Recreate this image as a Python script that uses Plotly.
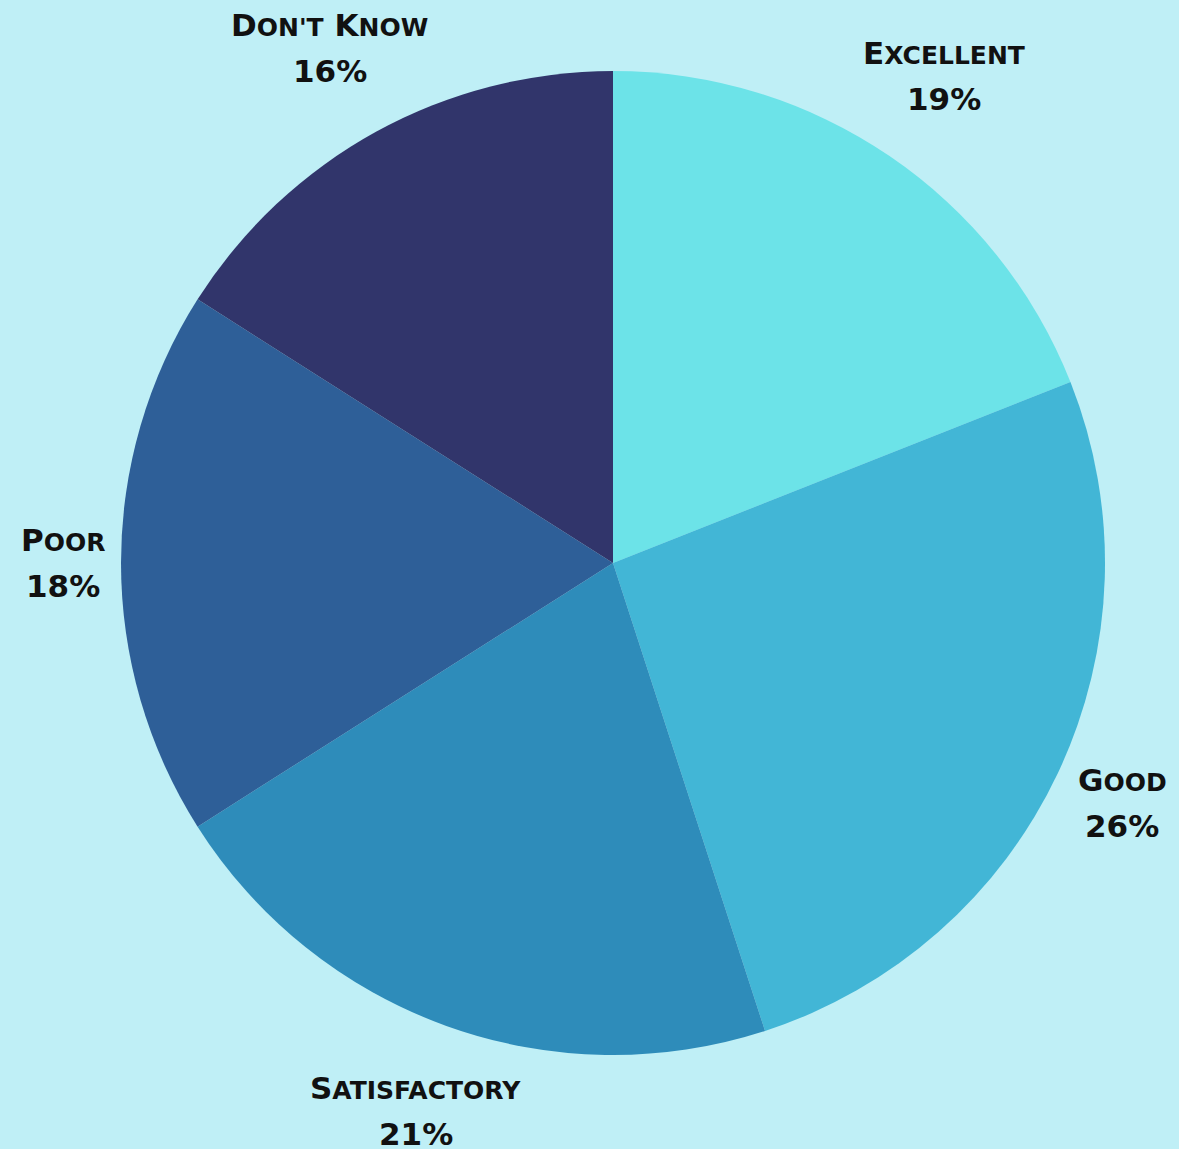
import math
import plotly.graph_objects as go

categories = ["Excellent", "Good", "Satisfactory", "Poor", "Don't Know"]
values = [19, 26, 21, 18, 16]
colors = ["#6ce3e8", "#42b6d6", "#2e8cba", "#2e5f98", "#31356b"]

W, H = 1179, 1149
ML, MR, MT, MB = 47, 0, 71, 94
FONT = "DejaVu Sans"
BIG, SMALL = 31, 25


def small_caps(label):
    words = []
    for w in label.split(" "):
        words.append(w[0].upper() + "<span style='font-size:%dpx'>%s</span>" % (SMALL, w[1:].upper()))
    return " ".join(words)


fig = go.Figure(go.Pie(
    labels=categories,
    values=values,
    sort=False,
    direction="clockwise",
    rotation=0,
    marker=dict(colors=colors, line=dict(width=0)),
    textinfo="none",
    showlegend=False,
    hoverinfo="label+percent",
))

# label placement derived from the slice mid-angles
pw, ph = W - ML - MR, H - MT - MB
R = min(pw, ph) / 2
cx, cy = ML + pw / 2, MT + ph / 2
total = sum(values)
cum = 0
annotations = []
for lab, v in zip(categories, values):
    mid = (cum + v / 2) / total * 2 * math.pi
    cum += v
    s, c = math.sin(mid), math.cos(mid)
    bw = 12 + 17 * len(lab)
    bh = 77
    d = R + 18 + abs(s) * bw / 2 + abs(c) * bh / 2
    px, py = cx + s * d, cy - c * d
    pct = "%d%%" % round(v / total * 100)
    for txt, off in ((small_caps(lab), -23), (pct, 23)):
        annotations.append(dict(
            x=(px - ML) / pw, y=(H - MB - (py + off)) / ph,
            xref="paper", yref="paper", text=txt, showarrow=False,
            xanchor="center", yanchor="middle",
            font=dict(family=FONT, size=BIG, color="#111111", weight="bold"),
        ))

fig.update_layout(
    width=W,
    height=H,
    margin=dict(l=ML, r=MR, t=MT, b=MB),
    paper_bgcolor="#bfeff6",
    plot_bgcolor="#bfeff6",
    annotations=annotations,
)

fig.write_html("out.html")
